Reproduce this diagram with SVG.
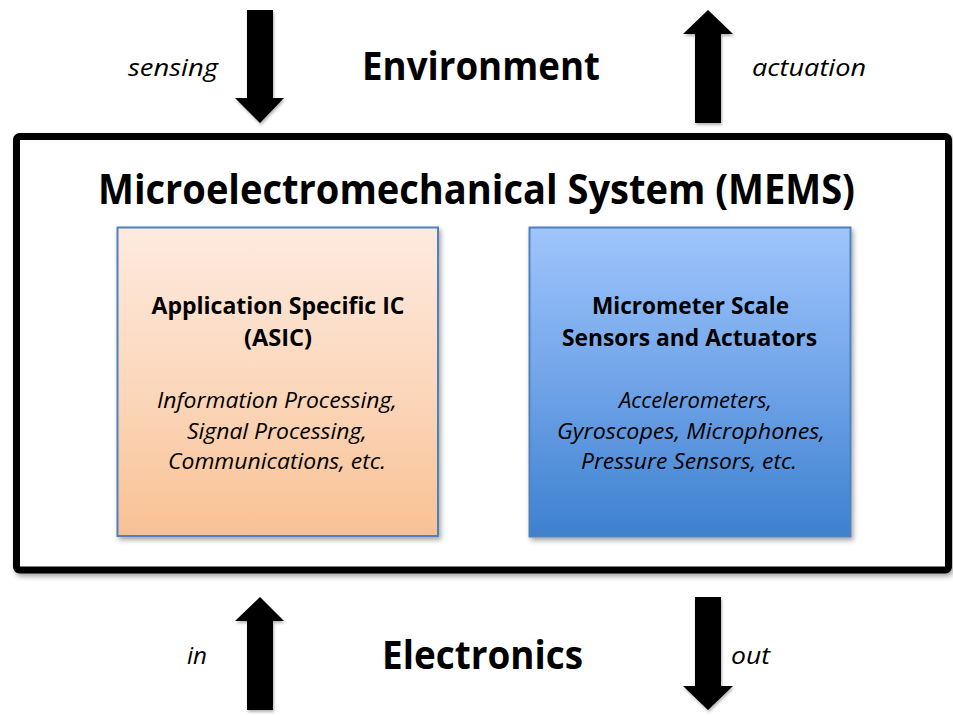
<svg xmlns="http://www.w3.org/2000/svg" width="953" height="715" viewBox="0 0 953 715">
  <defs>
    <linearGradient id="gradAsic" x1="0" y1="0" x2="0" y2="1">
      <stop offset="0" stop-color="#fdeadf"/>
      <stop offset="0.5" stop-color="#fbd8bd"/>
      <stop offset="1" stop-color="#f8c194"/>
    </linearGradient>
    <linearGradient id="gradMems" x1="0" y1="0" x2="0" y2="1">
      <stop offset="0" stop-color="#9fc5fc"/>
      <stop offset="0.5" stop-color="#70a4e8"/>
      <stop offset="1" stop-color="#3e80cf"/>
    </linearGradient>
    <filter id="shadow" x="-10%" y="-10%" width="125%" height="125%">
      <feDropShadow dx="2" dy="3" stdDeviation="2.5" flood-color="#000" flood-opacity="0.35"/>
    </filter>
    <filter id="arrowShadow" x="-30%" y="-10%" width="160%" height="125%">
      <feDropShadow dx="1" dy="2" stdDeviation="1.8" flood-color="#000" flood-opacity="0.3"/>
    </filter>
  </defs>
  <style>
    text { font-family: "Open Sans", "Noto Sans", "Liberation Sans", sans-serif; fill: #000; text-anchor: middle; }
    .big { font-size: 39px; font-weight: bold; }
    .title { font-size: 42px; font-weight: bold; }
    .label { font-size: 24px; font-style: italic; }
    .head { font-size: 23px; font-weight: bold; }
    .desc { font-size: 22px; font-style: italic; }
    .arrow { fill: #000; filter: url(#arrowShadow); }
    .block { stroke: #4f81bd; stroke-width: 2; filter: url(#shadow); }
  </style>

  <rect width="953" height="715" fill="#fff"/>

  <!-- outer system frame -->
  <g id="mems">
    <rect x="16.5" y="136.5" width="932" height="433.5" rx="3" fill="#fff" stroke="#000" stroke-width="7" filter="url(#shadow)"/>
    <text class="title" x="476.5" y="204" textLength="757" lengthAdjust="spacingAndGlyphs">Microelectromechanical System (MEMS)</text>
  </g>

  <g id="environment">
    <text class="big" x="481" y="80" textLength="238" lengthAdjust="spacingAndGlyphs">Environment</text>
  </g>

  <g id="electronics">
    <text class="big" x="482.5" y="669" textLength="201" lengthAdjust="spacingAndGlyphs">Electronics</text>
  </g>

  <!-- ASIC block -->
  <g id="asic">
    <rect class="block" x="117.5" y="227.5" width="320.5" height="308.5" fill="url(#gradAsic)"/>
    <text class="head" x="278" y="314" textLength="253" lengthAdjust="spacingAndGlyphs">Application Specific IC</text>
    <text class="head" x="278" y="346" textLength="68" lengthAdjust="spacingAndGlyphs">(ASIC)</text>
    <text class="desc" x="277" y="408" textLength="240" lengthAdjust="spacingAndGlyphs">Information Processing,</text>
    <text class="desc" x="277" y="439" textLength="180" lengthAdjust="spacingAndGlyphs">Signal Processing,</text>
    <text class="desc" x="277" y="469" textLength="218" lengthAdjust="spacingAndGlyphs">Communications, etc.</text>
  </g>

  <!-- sensors and actuators block -->
  <g id="sensors">
    <rect class="block" x="529.5" y="227.5" width="321" height="309" fill="url(#gradMems)"/>
    <text class="head" x="690.5" y="314" textLength="197" lengthAdjust="spacingAndGlyphs">Micrometer Scale</text>
    <text class="head" x="689.5" y="346" textLength="255" lengthAdjust="spacingAndGlyphs">Sensors and Actuators</text>
    <text class="desc" x="695.5" y="408" textLength="153" lengthAdjust="spacingAndGlyphs">Accelerometers,</text>
    <text class="desc" x="691" y="439" textLength="268" lengthAdjust="spacingAndGlyphs">Gyroscopes, Microphones,</text>
    <text class="desc" x="689" y="469" textLength="216" lengthAdjust="spacingAndGlyphs">Pressure Sensors, etc.</text>
  </g>

  <!-- block arrows between the system, environment and electronics -->
  <g id="connectors">
    <!-- sensing: down into the system -->
    <polygon class="arrow" points="247,10 273,10 273,98 284,98 260,123 235,98 247,98"/>
    <!-- actuation: up out of the system -->
    <polygon class="arrow" points="708,10 733,34 721,34 721,123 695,123 695,34 683,34"/>
    <!-- in: up from electronics -->
    <polygon class="arrow" points="260,597 284,621 273,621 273,710 247,710 247,621 235,621"/>
    <!-- out: down to electronics -->
    <polygon class="arrow" points="695,597 721,597 721,686 733,686 708,710 683,686 695,686"/>
  </g>

  <g id="labels">
    <text class="label" x="173" y="76" textLength="90" lengthAdjust="spacingAndGlyphs">sensing</text>
    <text class="label" x="809" y="76" textLength="114" lengthAdjust="spacingAndGlyphs">actuation</text>
    <text class="label" x="197" y="664" textLength="20" lengthAdjust="spacingAndGlyphs">in</text>
    <text class="label" x="750.5" y="664" textLength="39" lengthAdjust="spacingAndGlyphs">out</text>
  </g>
</svg>
